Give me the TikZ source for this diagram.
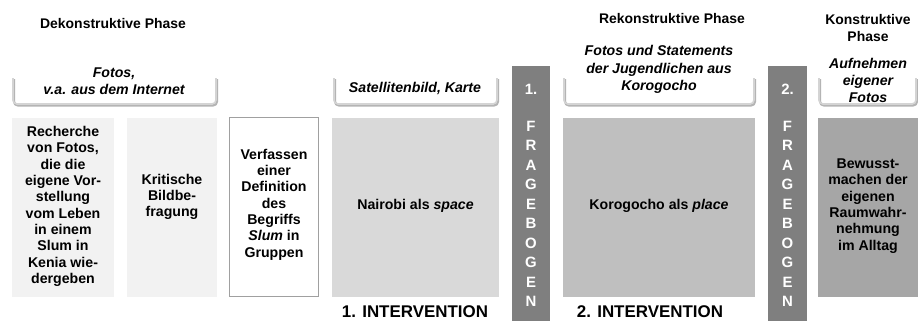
\documentclass[tikz,border=0pt]{standalone}
\usepackage{fontspec}
\setmainfont{Liberation Sans}
\definecolor{boxA}{HTML}{F2F2F2}
\definecolor{boxB}{HTML}{D9D9D9}
\definecolor{boxC}{HTML}{BFBFBF}
\definecolor{boxD}{HTML}{A6A6A6}
\definecolor{barC}{HTML}{7F7F7F}
\definecolor{brk}{HTML}{D4D4D4}
\definecolor{brkshadow}{HTML}{B4B4B4}
\definecolor{frameC}{HTML}{A0A0A0}
\begin{document}
\begin{tikzpicture}[x=1bp,y=-1bp,
  txt/.style={align=center,inner sep=0pt,font=\fontsize{14.2}{16.4}\selectfont\bfseries},
  ttl/.style={align=center,inner sep=0pt,font=\fontsize{14}{18}\selectfont\bfseries},
  ital/.style={align=center,inner sep=0pt,font=\fontsize{14.2}{17.5}\selectfont\bfseries\itshape},
  big/.style={align=center,inner sep=0pt,font=\fontsize{17}{20}\selectfont\bfseries},
  bartxt/.style={align=center,inner sep=0pt,text=white,font=\fontsize{15}{19.55}\selectfont\bfseries},
  brshadow/.style={draw=brkshadow,line width=2.2pt,rounded corners=4bp},
  brline/.style={draw=brk,line width=1.6pt,rounded corners=4bp}
]
\useasboundingbox (0,0) rectangle (918,321);
\fill[white] (0,0) rectangle (918,321);

% phase titles
\node[ttl] (ph1) at (113,24) {Dekonstruktive Phase};
\node[ttl] (ph2) at (672,19) {Rekonstruktive Phase};
\node[ttl] (ph3) at (868,28) {Konstruktive\\Phase};

% brackets
\foreach \a/\b in {13/216, 334/497, 564/754, 819/916}{
  \draw[brshadow] (\a+1,79) -- (\a+1,105.5) -- (\b+1,105.5) -- (\b+1,79);
  \draw[brline] (\a,78) -- (\a,104) -- (\b,104) -- (\b,78);
}
\node[ital] (br1) at (114,81) {Fotos,\\v.a. aus dem Internet};
\node[ital] (br2) at (415,88) {Satellitenbild, Karte};
\node[ital] (br3) at (659,69.5) {Fotos und Statements\\der Jugendlichen aus\\Korogocho};
\node[ital] (br4) at (868,80.5) {Aufnehmen\\eigener\\Fotos};

% main boxes
\fill[boxA] (12,118) rectangle (114,297);
\node[txt] (b1) at (63,206.5) {Recherche\\von Fotos,\\die die\\eigene Vor-\\stellung\\vom Leben\\in einem\\Slum in\\Kenia wie-\\dergeben};
\fill[boxA] (127,118) rectangle (217,297);
\node[txt] (b2) at (172,197) {Kritische\\Bildbe-\\fragung};
\draw[frameC,line width=0.9pt,fill=white] (229.5,117.5) rectangle (318.5,296.5);
\node[txt] (b3) at (274,204.5) {Verfassen\\einer\\Definition\\des\\Begriffs\\\textit{Slum} in\\Gruppen};
\fill[boxB] (332,118) rectangle (499,297);
\node[txt] (b4) at (415.5,206) {Nairobi als \textit{space}};
\fill[boxC] (563,118) rectangle (755,297);
\node[txt] (b5) at (659,206) {Korogocho als \textit{place}};
\fill[boxD] (818,118) rectangle (918,297);
\node[txt] (b6) at (868,206) {Bewusst-\\machen der\\eigenen\\Raumwahr-\\nehmung\\im Alltag};

% questionnaire bars
\fill[barC] (512,66) rectangle (550,321);
\node[bartxt] (n1) at (531,89) {1.};
\node[bartxt] (fb1) at (531,214) {F\\R\\A\\G\\E\\B\\O\\G\\E\\N};
\fill[barC] (768,66) rectangle (807,321);
\node[bartxt] (n2) at (787.5,89) {2.};
\node[bartxt] (fb2) at (787.5,214) {F\\R\\A\\G\\E\\B\\O\\G\\E\\N};

% intervention labels
\node[big] (iv1) at (415,312) {1. INTERVENTION};
\node[big] (iv2) at (650,312) {2. INTERVENTION};
\end{tikzpicture}
\end{document}
